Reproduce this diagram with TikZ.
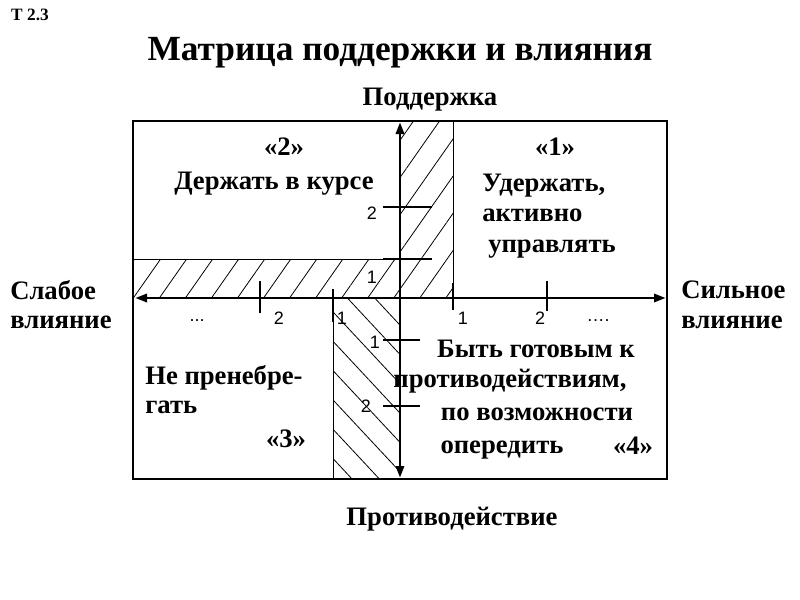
\documentclass[tikz,border=0pt]{standalone}
\usepackage{fontspec}
\setmainfont{Liberation Serif}
\newfontfamily\numfont{Liberation Sans}
\usetikzlibrary{patterns.meta,arrows.meta}
\begin{document}
\begin{tikzpicture}[x=0.75pt,y=-0.75pt,
  lbl/.style={font=\bfseries\fontsize{20}{24}\selectfont, inner sep=0pt},
  ttl/.style={font=\bfseries\fontsize{26.5}{30}\selectfont, inner sep=0pt},
  num/.style={font=\numfont\fontsize{13.5}{16}\selectfont, inner sep=0pt},
  frame/.style={line width=2.2pt},
  axisline/.style={line width=2.2pt, {Triangle[length=9pt,width=6pt]}-{Triangle[length=9pt,width=6pt]}},
  tickmark/.style={line width=2.2pt},
  thin/.style={line width=0.6pt},
  hatchA/.style={pattern={Lines[angle=55,distance=16pt,line width=0.6pt]}},
  hatchB/.style={pattern={Lines[angle=-47,distance=15pt,line width=0.6pt]}}]
\useasboundingbox (0,0) rectangle (800,600);

% hatched regions
\fill[hatchA] (400,121) rectangle (453,298);
\fill[hatchA] (133,259) rectangle (400,298);
\fill[hatchB] (333,298) rectangle (400,479);
\draw[thin] (453,121) -- (453,298);
\draw[thin] (133,259) -- (400,259);
\draw[thin] (333,298) -- (333,479);

% frame
\draw[frame] (133,121) rectangle (667,479);

% axes
\coordinate (L) at (135,298);
\coordinate (R) at (666,298);
\coordinate (T) at (400,122);
\coordinate (B) at (400,478);
\draw[axisline] (L) -- (R);
\draw[axisline] (B) -- (T);

% ticks on horizontal axis
\draw[tickmark] (260,281) -- (260,313);
\draw[tickmark] (333,289) -- (333,322);
\draw[tickmark] (453,283) -- (453,310);
\draw[tickmark] (547,281) -- (547,311);
% ticks on vertical axis
\draw[tickmark] (383,207) -- (432,207);
\draw[tickmark] (383,259) -- (432,259);
\draw[tickmark] (383,340) -- (420,340);
\draw[tickmark] (383,406) -- (420,406);

% numbers
\node[num] (hd1) at (197,321) {...};
\node[num] (h2l) at (279,318) {2};
\node[num] (h1l) at (342,318) {1};
\node[num] (h1r) at (463,318) {1};
\node[num] (h2r) at (540,318) {2};
\node[num] (hd2) at (598,321) {\ldots.};
\node[num] (v2t) at (372,213) {2};
\node[num] (v1t) at (372,277) {1};
\node[num] (v1b) at (375,342) {1};
\node[num] (v2b) at (366,406) {2};

% texts
\node[font=\bfseries\fontsize{13}{15}\selectfont, inner sep=0pt] (tnum) at (30,15) {Т 2.3};
\node[ttl] (title) at (400,53) {Матрица поддержки и влияния};
\node[lbl] (top) at (430,100) {Поддержка};
\node[lbl] (bottom) at (452,519) {Противодействие};

\node[lbl, anchor=west] (wl1) at (10,290) {Слабое};
\node[lbl, anchor=west] (wl2) at (10,322) {влияние};
\node[lbl, anchor=west] (sl1) at (681,290) {Сильное};
\node[lbl, anchor=west] (sl2) at (681,322) {влияние};

\node[lbl] (q2) at (284,147) {«2»};
\node[lbl] (q2t) at (274,184) {Держать в курсе};

\node[lbl] (q1) at (555,147) {«1»};
\node[lbl, anchor=west] (q1a) at (482,186) {Удержать,};
\node[lbl, anchor=west] (q1b) at (482,215) {активно};
\node[lbl, anchor=west] (q1c) at (488,249) {управлять};

\node[lbl, anchor=west] (q3a) at (145,378) {Не пренебре-};
\node[lbl, anchor=west] (q3b) at (145,407) {гать};
\node[lbl] (q3) at (286,439) {«3»};

\node[lbl] (q4a) at (536,349) {Быть готовым к};
\node[lbl] (q4b) at (510,381) {противодействиям,};
\node[lbl] (q4c) at (537,414) {по возможности};
\node[lbl] (q4d) at (502,450) {опередить};
\node[lbl] (q4) at (633,446) {«4»};
\end{tikzpicture}
\end{document}
